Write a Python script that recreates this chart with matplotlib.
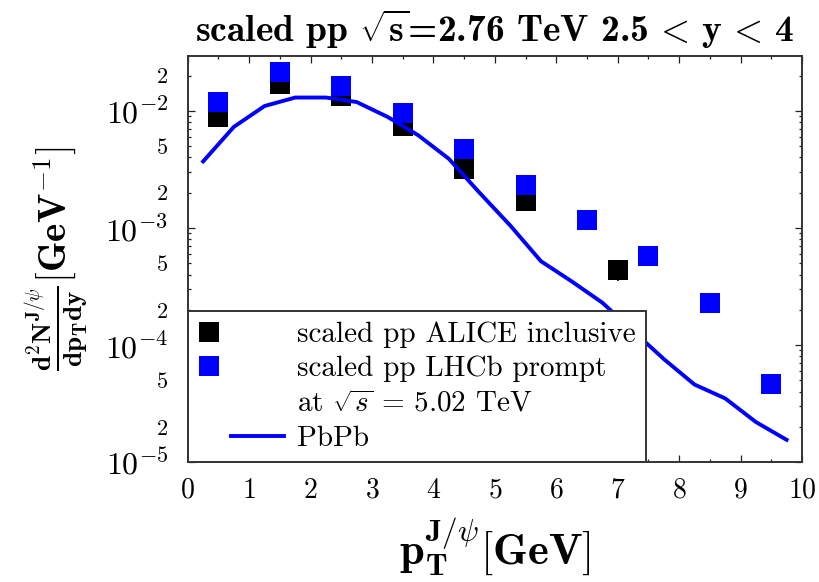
import numpy as np
import matplotlib
matplotlib.use("Agg")
import matplotlib.pyplot as plt
from matplotlib.lines import Line2D
from matplotlib.legend_handler import HandlerLine2D
from matplotlib.ticker import LogLocator, FuncFormatter, MultipleLocator

plt.rcParams['font.family'] = 'serif'
plt.rcParams['font.serif'] = ['cmr10']
plt.rcParams['mathtext.fontset'] = 'cm'
plt.rcParams['axes.unicode_minus'] = False
plt.rcParams['axes.formatter.use_mathtext'] = True

# scaled pp ALICE inclusive
alice_pt = [0.5, 1.5, 2.5, 3.5, 4.5, 5.5, 7.0]
alice_val = [0.0089, 0.0168, 0.0135, 0.00738, 0.00321, 0.00171, 0.00044]
alice_err = [0.0, 0.0, 0.0, 0.0, 0.0, 0.0, 0.00009]

# scaled pp LHCb prompt
lhcb_pt = [0.5, 1.5, 2.5, 3.5, 4.5, 5.5, 6.5, 7.5, 8.5, 9.5]
lhcb_val = [0.0120, 0.0214, 0.01625, 0.0095, 0.00473, 0.00232, 0.001164,
            0.000581, 0.000229, 0.0000468]

# PbPb model curve
pbpb_pt = [0.25, 0.75, 1.25, 1.75, 2.25, 2.75, 3.25, 3.75, 4.25, 4.75,
           5.25, 5.75, 6.25, 6.75, 7.25, 7.75, 8.25, 8.75, 9.25, 9.75]
pbpb_val = [0.0037, 0.0073, 0.0110, 0.0130, 0.0130, 0.0119, 0.0089, 0.0062,
            0.0039, 0.0020, 0.00105, 0.00052, 0.00035, 0.00023, 0.000132,
            0.000076, 0.000046, 0.000035, 0.000022, 0.0000155]

blue = '#0000ff'


class MarkerLeft(HandlerLine2D):
    # single marker sits in the middle of xdata, so shrink it to the left part
    def get_xdata(self, legend, xdescent, ydescent, width, height, fontsize):
        xd, xm = super().get_xdata(legend, xdescent, ydescent, width, height, fontsize)
        return [-xdescent, -xdescent + 0.26 * width], [-xdescent + 0.13 * width]


class LineRight(HandlerLine2D):
    def get_xdata(self, legend, xdescent, ydescent, width, height, fontsize):
        xd, xm = super().get_xdata(legend, xdescent, ydescent, width, height, fontsize)
        return [-xdescent + 0.38 * width, -xdescent + width], xm


fig = plt.figure(figsize=(8.2, 5.82), dpi=100)
ax = fig.add_axes([0.229, 0.206, 0.749, 0.698])

ax.errorbar(alice_pt, alice_val, yerr=alice_err, fmt='s', color='black',
            markersize=13.7, markeredgewidth=0, elinewidth=1.2, capsize=5,
            capthick=1.2, zorder=2)
ax.plot(lhcb_pt, lhcb_val, 's', color=blue, markersize=13.7,
        markeredgewidth=0, zorder=3)
ax.plot(pbpb_pt, pbpb_val, '-', color=blue, linewidth=2.8, zorder=4)

ax.set_yscale('log')
ax.set_xlim(0, 10)
ax.set_ylim(1e-5, 0.0295)

ax.xaxis.set_major_locator(MultipleLocator(1))
ax.xaxis.set_minor_locator(MultipleLocator(0.5))
ax.yaxis.set_major_locator(LogLocator(base=10, numticks=10))
ax.yaxis.set_minor_locator(LogLocator(base=10, subs=np.arange(2, 10), numticks=20))


def major_fmt(v, pos):
    return r'$10^{%d}$' % int(round(np.log10(v)))


def minor_fmt(v, pos):
    m = v / 10 ** np.floor(np.log10(v) + 1e-9)
    m = int(round(m))
    return str(m) if m in (2, 5) else ''


ax.yaxis.set_major_formatter(FuncFormatter(major_fmt))
ax.yaxis.set_minor_formatter(FuncFormatter(minor_fmt))

ax.tick_params(which='both', direction='in', top=True, right=True, width=0.9,
               color='#222222')
ax.tick_params(which='major', length=5)
ax.tick_params(which='minor', length=2.5)
ax.tick_params(axis='x', which='both', labelsize=20, pad=11)
ax.tick_params(axis='y', which='major', labelsize=23, pad=14)
ax.tick_params(axis='y', which='minor', labelsize=16, pad=14)
for s in ax.spines.values():
    s.set_linewidth(1.4)
    s.set_color('#333333')

ax.set_title(r'scaled pp $\sqrt{\mathbf{s}}$=2.76 TeV 2.5$\,<\,$y$\,<\,$4',
             fontsize=27, fontfamily='cmb10', pad=10)
ax.set_xlabel(r'$\mathbf{p}_{\mathbf{T}}^{\mathbf{J}/\psi}[\mathbf{GeV}]$',
              fontsize=32, labelpad=9)
ax.set_ylabel(r'$\frac{\mathbf{d^2N^{J/\psi}}}{\mathbf{dp_T dy}}[\mathbf{GeV^{-1}}]$',
              fontsize=28)
ax.yaxis.set_label_coords(-0.16, 0.5)

handles = [
    Line2D([], [], marker='s', color='black', linestyle='none', markersize=14, markeredgewidth=0),
    Line2D([], [], marker='s', color=blue, linestyle='none', markersize=14, markeredgewidth=0),
    Line2D([], [], linestyle='none'),
    Line2D([], [], color=blue, linewidth=2.8),
]
labels = ['scaled pp ALICE inclusive', 'scaled pp LHCb prompt',
          r'at $\sqrt{s}$ = 5.02 TeV', 'PbPb']
leg = ax.legend(handles, labels, loc='lower left', borderaxespad=0,
                fontsize=21, handlelength=2.95, handletextpad=0.45,
                labelspacing=0.28, borderpad=0.35, fancybox=False,
                framealpha=1, edgecolor='#333333', numpoints=1,
                handler_map={handles[0]: MarkerLeft(), handles[1]: MarkerLeft(),
                             handles[3]: LineRight()})
leg.get_frame().set_linewidth(1.4)
leg.set_zorder(5)

fig.savefig('out.png', dpi=100)
